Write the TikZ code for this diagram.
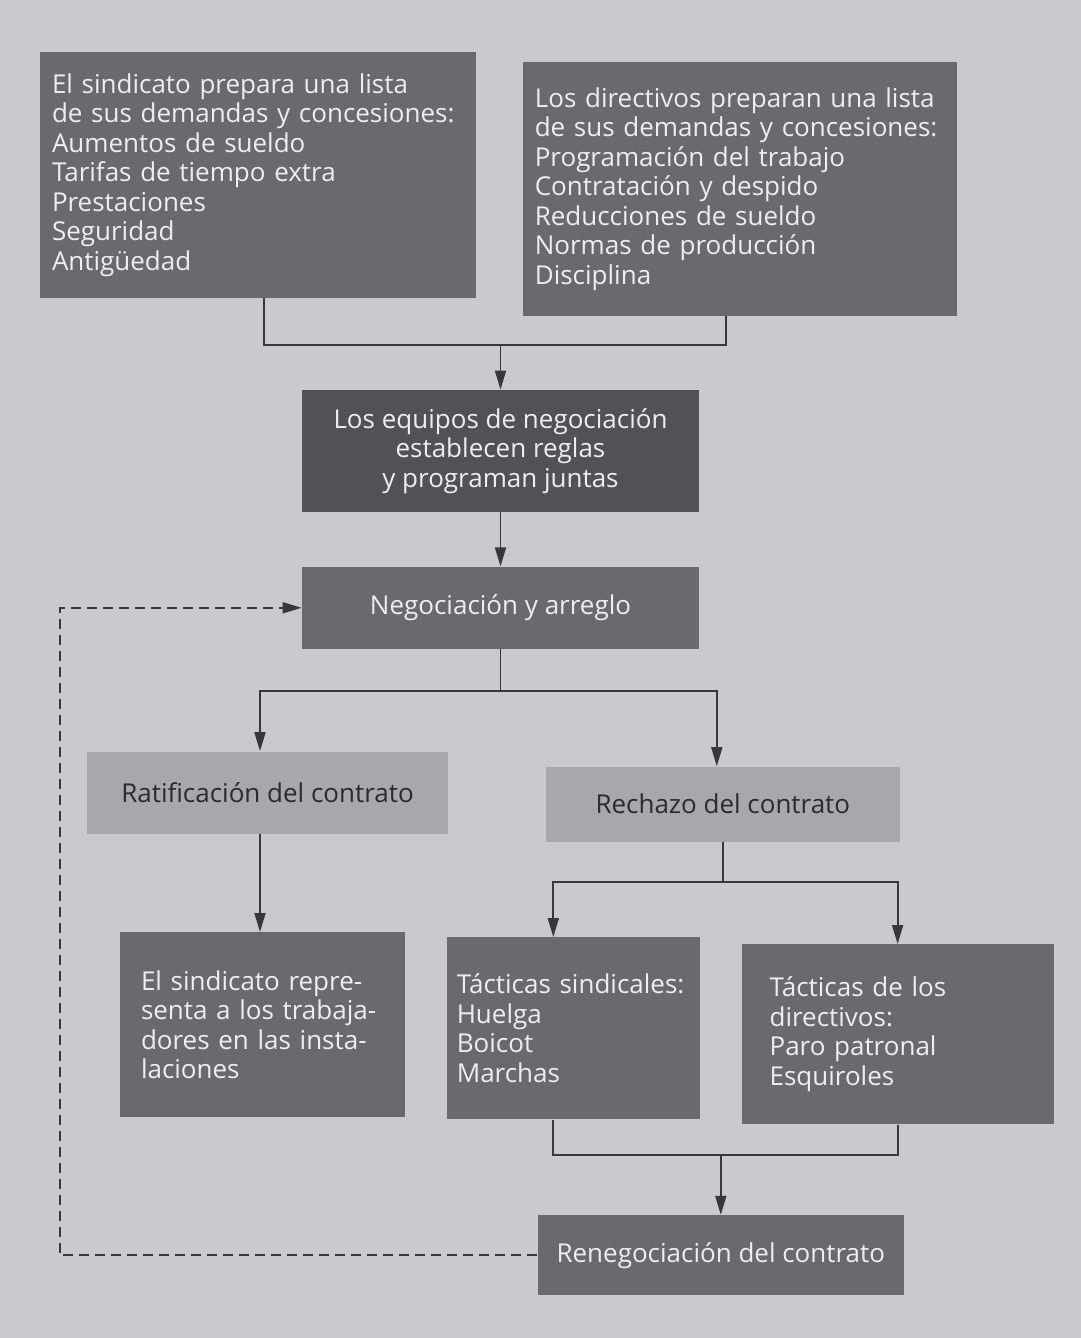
\documentclass[tikz,border=0pt]{standalone}
\usepackage{fontspec}
\setmainfont{Open Sans}
\usepackage{tikz}
\usetikzlibrary{arrows.meta,positioning}

\definecolor{paper}{RGB}{200,202,207}
\definecolor{boxgray}{RGB}{104,106,111}
\definecolor{deepgray}{RGB}{80,82,87}
\definecolor{palegray}{RGB}{166,168,173}
\definecolor{linegray}{RGB}{55,56,61}
\definecolor{textlight}{RGB}{238,238,240}
\definecolor{textdark}{RGB}{42,43,47}

\begin{document}
\begin{tikzpicture}[
  font=\fontsize{13}{14.75}\selectfont,
  box/.style={fill=boxgray, text=textlight, align=left, inner sep=6pt},
  deepbox/.style={box, fill=deepgray, align=center},
  palebox/.style={box, fill=palegray, text=textdark, align=center},
  centerbox/.style={box, align=center},
  arrow/.style={-{Triangle[length=9.5pt,width=5.5pt]}, draw=linegray, line width=0.9pt},
  link/.style={draw=linegray, line width=0.9pt},
  loop/.style={-{Triangle[length=9.5pt,width=5.5pt]}, draw=linegray, line width=0.8pt,
    dash pattern=on 5pt off 3pt}
]
\fill[paper] (0,0) rectangle (540.5pt,-669pt);
\useasboundingbox (0,0) rectangle (540.5pt,-669pt);

\node[box,text width=206pt,minimum height=123pt] (sindicato) at (129pt,-87.5pt)
  {El sindicato prepara una lista\\de sus demandas y concesiones:\\Aumentos de sueldo\\Tarifas de tiempo extra\\Prestaciones\\Seguridad\\Antigüedad};
\node[box,text width=205pt,minimum height=127pt,right=23pt of sindicato,yshift=-7pt] (directivos)
  {Los directivos preparan una lista\\de sus demandas y concesiones:\\Programación del trabajo\\Contratación y despido\\Reducciones de sueldo\\Normas de producción\\Disciplina};
\node[deepbox,minimum width=198.5pt,minimum height=61pt] (equipos) at (250.25pt,-225.5pt)
  {Los equipos de negociación\\establecen reglas\\y programan juntas};
\node[centerbox,minimum width=198.5pt,minimum height=41pt,below=27pt of equipos] (arreglo)
  {Negociación y arreglo};
\node[palebox,minimum width=180.5pt,minimum height=41pt,below=51pt of arreglo,xshift=-116.5pt] (ratificacion)
  {Ratificación del contrato};
\node[palebox,minimum width=177pt,minimum height=37.5pt,right=48.5pt of ratificacion,yshift=-5.75pt] (rechazo)
  {Rechazo del contrato};
\node[box,text width=121.5pt,inner xsep=10.5pt,minimum height=92.5pt,below=49pt of ratificacion,xshift=-2.5pt] (representa)
  {El sindicato repre-\\senta a los trabaja-\\dores en las insta-\\laciones};
\node[box,text width=116.5pt,inner xsep=5pt,minimum height=91pt,right=20.5pt of representa,yshift=-1.75pt] (sindicales)
  {Tácticas sindicales:\\Huelga\\Boicot\\Marchas};
\node[box,text width=128pt,inner xsep=14pt,minimum height=90pt,right=20.5pt of sindicales,yshift=-3pt] (tacdir)
  {Tácticas de los\\directivos:\\Paro patronal\\Esquiroles};
\node[centerbox,minimum width=183pt,minimum height=40pt,below=47.5pt of sindicales,xshift=73.75pt] (renegociacion)
  {Renegociación del contrato};

% junction points
\coordinate (jtop) at ([yshift=22.5pt]equipos.north);
\coordinate (jmid) at ([yshift=-21pt]arreglo.south);
\coordinate (jright) at ([yshift=-20pt]rechazo.south);
\coordinate (jlow) at ([yshift=30pt]renegociacion.north);
\coordinate (back) at (30pt,-500pt);

\draw[link] ([xshift=3pt]sindicato.south) |- (jtop) -| ([xshift=-7pt]directivos.south);
\draw[arrow] (jtop) -- (equipos);
\draw[arrow] (equipos) -- (arreglo);
\draw[link] (arreglo.south) -- (jmid);
\draw[arrow] (jmid) -| ([xshift=-3.75pt]ratificacion.north);
\draw[arrow] (jmid) -| ([xshift=-3pt]rechazo.north);
\draw[arrow] ([xshift=-1.25pt]representa.north |- ratificacion.south) -- ([xshift=-1.25pt]representa.north);
\draw[link] (rechazo.south) -- (jright);
\draw[arrow] (jright) -| ([xshift=-10pt]sindicales.north);
\draw[arrow] (jright) -| (tacdir.north);
\draw[link] ([xshift=-10pt]sindicales.south) |- (jlow) -| (tacdir.south);
\draw[arrow] (jlow) -- (renegociacion);
\draw[loop] (renegociacion.west) -| (back) |- (arreglo.west);
\end{tikzpicture}
\end{document}
